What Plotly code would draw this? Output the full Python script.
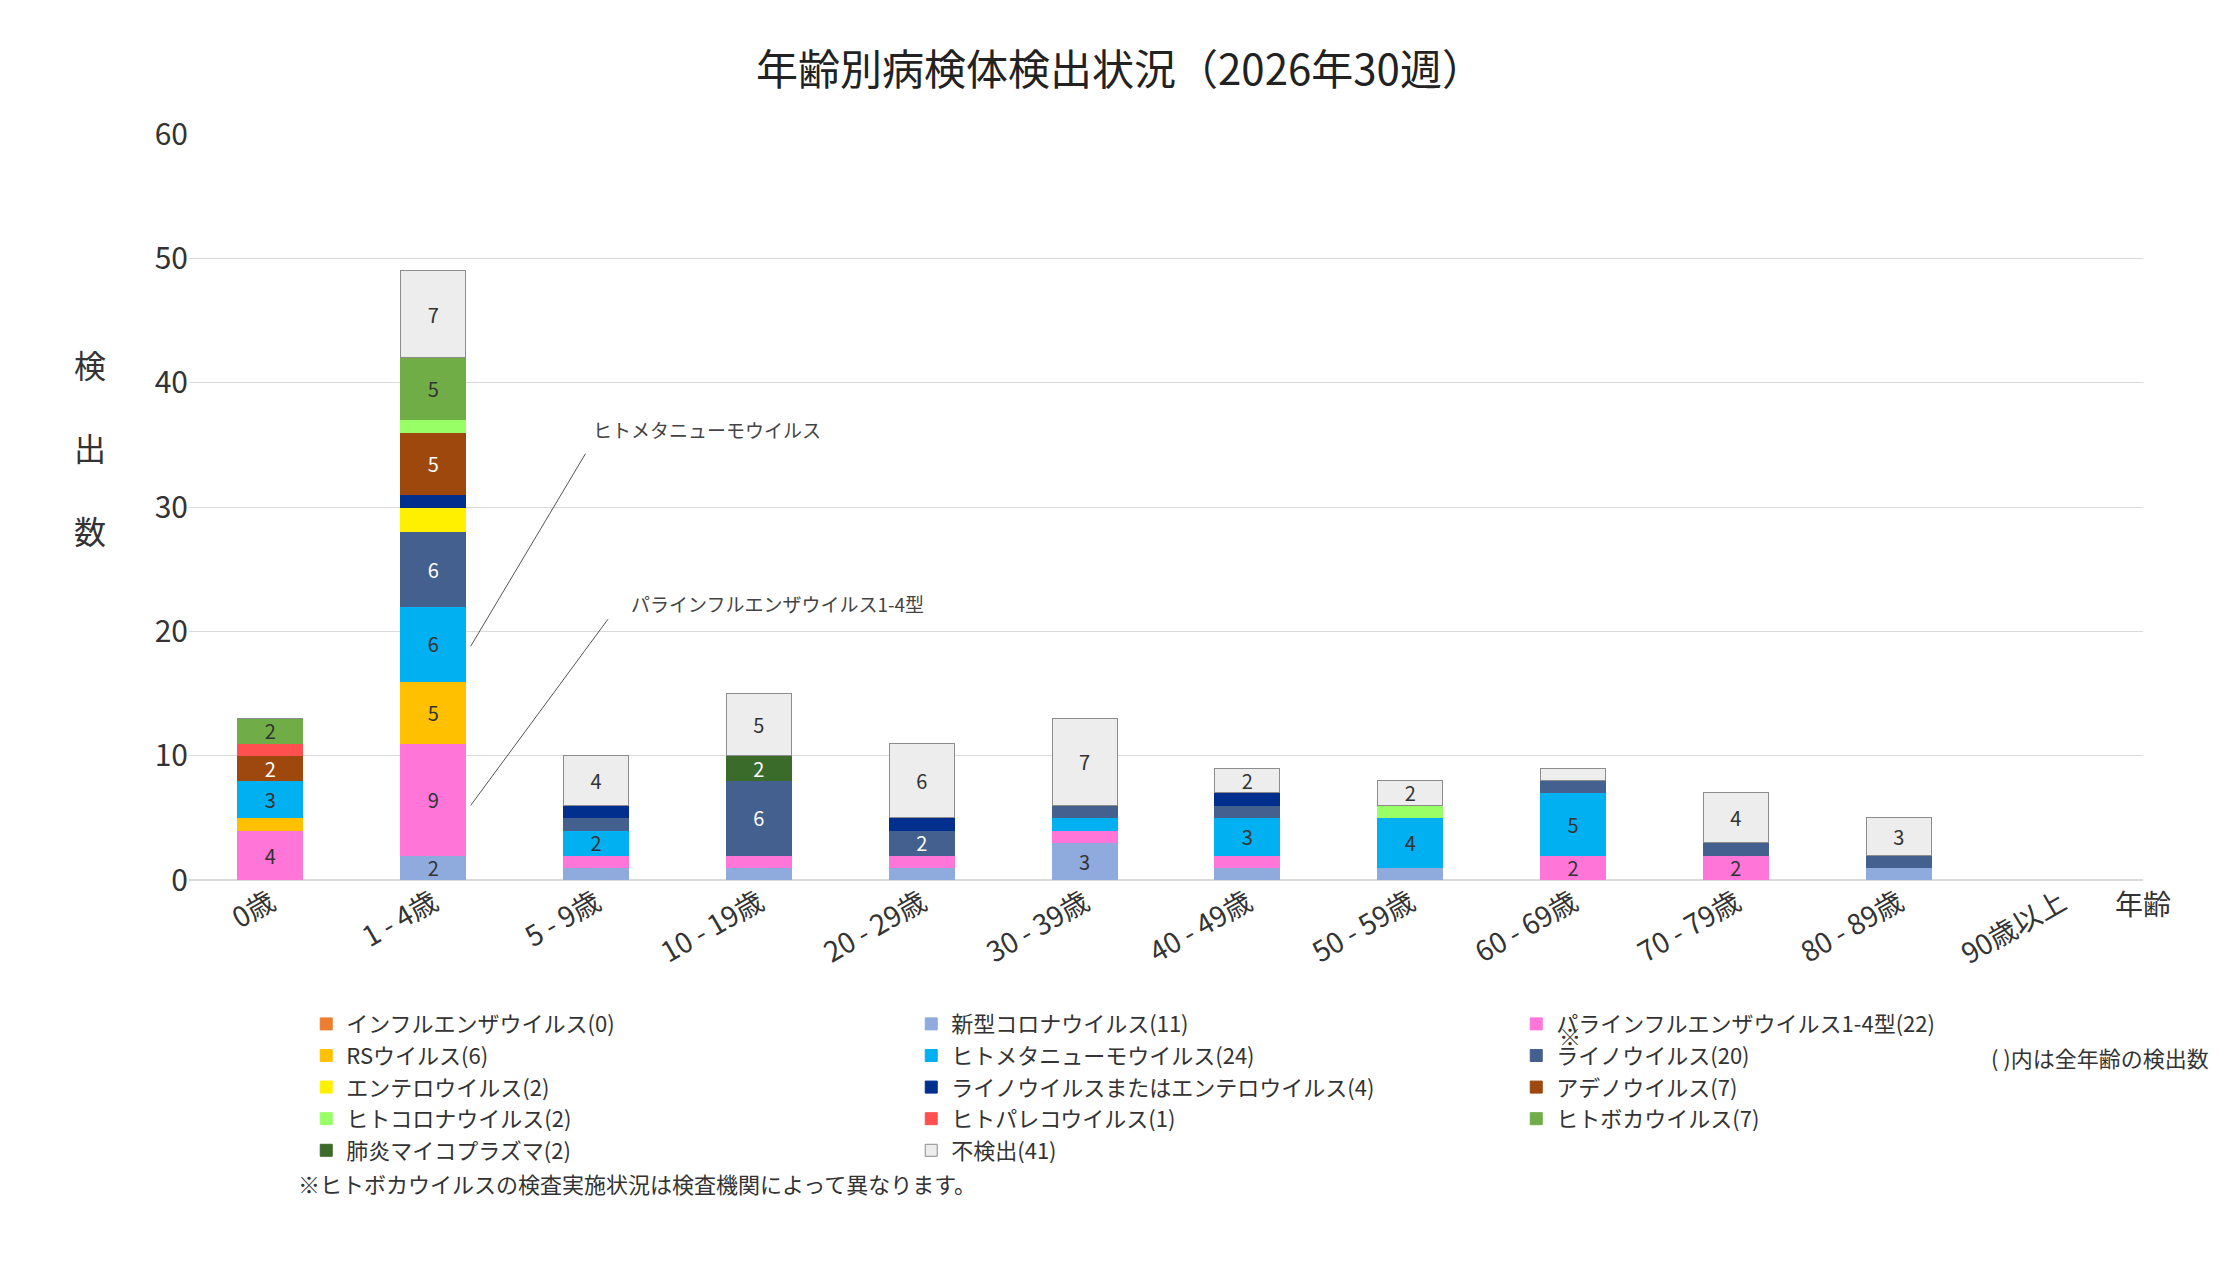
import plotly.graph_objects as go

categories = ["0歳","1 - 4歳","5 - 9歳","10 - 19歳","20 - 29歳","30 - 39歳","40 - 49歳","50 - 59歳","60 - 69歳","70 - 79歳","80 - 89歳","90歳以上"]

covid    = [0,2,1,1,1,3,1,1,0,0,1,0]
para     = [4,9,1,1,1,1,1,0,2,2,0,0]
flu      = [0,0,0,0,0,0,0,0,0,0,0,0]
rs       = [1,5,0,0,0,0,0,0,0,0,0,0]
hmpv     = [3,6,2,0,0,1,3,4,5,0,0,0]
rhino    = [0,6,1,6,2,1,1,0,1,1,1,0]
entero   = [0,2,0,0,0,0,0,0,0,0,0,0]
rhino_en = [0,1,1,0,1,0,1,0,0,0,0,0]
adeno    = [2,5,0,0,0,0,0,0,0,0,0,0]
hcov     = [0,1,0,0,0,0,0,1,0,0,0,0]
parecho  = [1,0,0,0,0,0,0,0,0,0,0,0]
boca     = [2,5,0,0,0,0,0,0,0,0,0,0]
myco     = [0,0,0,2,0,0,0,0,0,0,0,0]
neg      = [0,7,4,5,6,7,2,2,1,4,3,0]

# (name, values, color, legend rank, text color, show labels)
series = [
    ("新型コロナウイルス(11)", covid, "#8FAADC", 2, "#333", True),
    ("パラインフルエンザウイルス1-4型(22)", para, "#FF75D8", 3, "#333", True),
    ("インフルエンザウイルス(0)", flu, "#ED7D31", 1, "#333", True),
    ("RSウイルス(6)", rs, "#FFC000", 4, "#333", True),
    ("ヒトメタニューモウイルス(24)", hmpv, "#00B0F0", 5, "#333", True),
    ("ライノウイルス(20)", rhino, "#44608F", 6, "white", True),
    ("エンテロウイルス(2)", entero, "#FFF000", 7, "#333", False),
    ("ライノウイルスまたはエンテロウイルス(4)", rhino_en, "#002F8E", 8, "white", True),
    ("アデノウイルス(7)", adeno, "#9E480E", 9, "white", True),
    ("ヒトコロナウイルス(2)", hcov, "#99FF66", 10, "#333", True),
    ("ヒトパレコウイルス(1)", parecho, "#FF5050", 11, "#333", True),
    ("ヒトボカウイルス(7)", boca, "#70AD47", 12, "#333", True),
    ("肺炎マイコプラズマ(2)", myco, "#3A6B2A", 13, "white", True),
    ("不検出(41)", neg, "#EDEDED", 14, "#333", True),
]

FONT = "Noto Sans CJK JP"
xs = list(range(len(categories)))
fig = go.Figure()
for name, vals, color, rank, tcol, show in series:
    fig.add_trace(go.Bar(
        x=xs, y=vals, name=name, legendrank=rank,
        marker=dict(color=color, line=dict(color="#8c8c8c" if name.startswith("不検出") else color, width=1)),
        width=0.4,
        text=[str(v) if (v >= 2 and show) else "" for v in vals],
        textposition="inside", insidetextanchor="middle", textangle=0,
        constraintext="none",
        textfont=dict(size=20, color=tcol, family=FONT),
    ))

fig.update_layout(
    barmode="stack", width=2224, height=1262,
    paper_bgcolor="white", plot_bgcolor="white",
    font=dict(family=FONT, color="#333"),
    margin=dict(l=181, r=89, t=126, b=390),
    title=dict(text="年齢別病検体検出状況（2026年30週）", x=0.5, y=0.962, xanchor="center",
               font=dict(size=42, color="#222")),
    xaxis=dict(tickvals=xs, ticktext=categories, tickangle=-30, tickfont=dict(size=28),
               range=[-0.5, 11.5], showline=False, ticks=""),
    yaxis=dict(range=[0, 60], dtick=10, gridcolor="#D9D9D9", tickfont=dict(size=30),
               zeroline=True, zerolinecolor="#D9D9D9", ticklen=40, tickcolor="white"),
    legend=dict(orientation="h", x=0.06, y=-0.165, xanchor="left", yanchor="top",
                entrywidth=560, entrywidthmode="pixels", font=dict(size=22),
                traceorder="normal", itemclick=False, tracegroupgap=0),
    showlegend=True,
)

anns = [
    dict(x=1.23, y=18.8, ax=1.94, ay=34.4, axref="x", ayref="y", text="", showarrow=True,
         arrowhead=0, arrowwidth=1, arrowcolor="#555"),
    dict(x=1.23, y=6.0, ax=2.08, ay=21.1, axref="x", ayref="y", text="", showarrow=True,
         arrowhead=0, arrowwidth=1, arrowcolor="#555"),
    dict(x=1.97, y=36.2, text="ヒトメタニューモウイルス", showarrow=False, xanchor="left",
         font=dict(size=19, color="#444")),
    dict(x=2.2, y=22.2, text="パラインフルエンザウイルス1-4型", showarrow=False, xanchor="left",
         font=dict(size=19, color="#444")),
    dict(xref="paper", yref="paper", x=-0.06, y=0.58, text="検<br><br>出<br><br>数", showarrow=False,
         font=dict(size=32, color="#333"), align="center"),
    dict(xref="paper", yref="paper", x=1.0, y=-0.06, text="年齢", showarrow=False,
         xanchor="center", font=dict(size=28, color="#333")),
    dict(xref="paper", yref="paper", x=0.7, y=-0.232, text="※", showarrow=False,
         xanchor="left", font=dict(size=22, color="#333")),
    dict(xref="paper", yref="paper", x=1.035, y=-0.262, text="( )内は全年齢の検出数", showarrow=False,
         xanchor="right", font=dict(size=22, color="#333")),
    dict(xref="paper", yref="paper", x=0.055, y=-0.43, text="※ヒトボカウイルスの検査実施状況は検査機関によって異なります。",
         showarrow=False, xanchor="left", font=dict(size=22, color="#333")),
]
fig.update_layout(annotations=anns)
fig.write_html("out.html")
